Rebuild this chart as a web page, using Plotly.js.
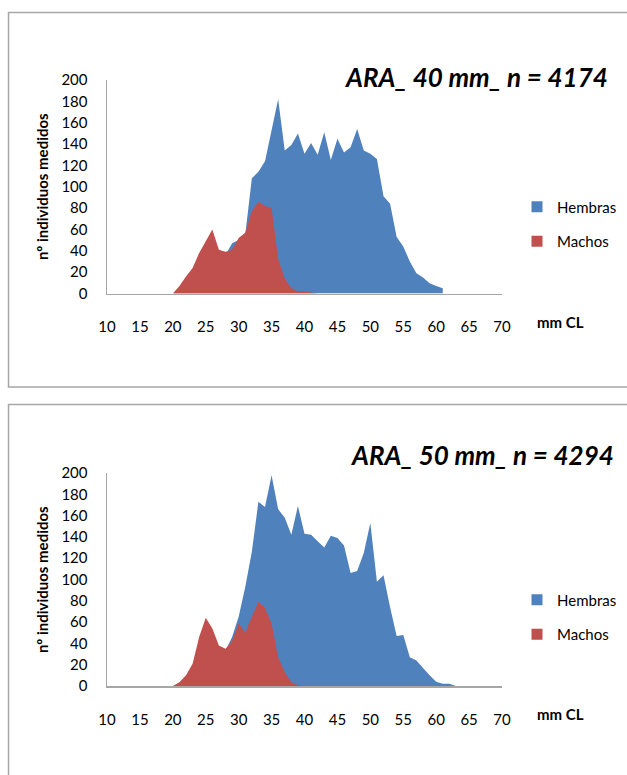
<!DOCTYPE html>
<html>
<head>
<meta charset="utf-8">
<script src="https://cdn.plot.ly/plotly-3.0.1.min.js"></script>
<style>html,body{margin:0;padding:0;background:#fff;}#chart{width:627px;height:775px;}</style>
</head>
<body>
<div id="chart"></div>
<script>
// ---- Data ----
// Panel 1: ARA_ 40 mm_ n = 4174
const mmHembras40 = [20,21,22,23,24,25,26,27,28,29,30,31,32,33,34,35,36,37,38,39,40,41,42,43,44,45,46,47,48,49,50,51,52,53,54,55,56,57,58,59,60,61];
const hembras40   = [0,2,5,10,16,22,28,32,36,47,50,55,108,114,124,153,182,134,139,150,131,141,130,151,125,145,132,137,154,134,131,126,91,84,53,44,30,19,15,9.5,7,5];
const mmMachos40  = [20,21,22,23,24,25,26,27,28,29,30,31,32,33,34,35,36,37,38,39,40,41,42];
const machos40    = [0,7,16,24,38,49,60,41,39,41,52,57,77,86,82,80,32,14,5,2,2,1,0];

// Panel 2: ARA_ 50 mm_ n = 4294
const mmHembras50 = [20,21,22,23,24,25,26,27,28,29,30,31,32,33,34,35,36,37,38,39,40,41,42,43,44,45,46,47,48,49,50,51,52,53,54,55,56,57,58,59,60,61,62,63];
const hembras50   = [0,1,3,6,10,15,20,27,33,46,65,93,126,173,168,198,166,158,142,169,143,142,136,130,141,139,132,106,108,125,153,98,104,74,47,48,27,24,17,10,4,2,2,0];
const mmMachos50  = [20,21,22,23,24,25,26,27,28,29,30,31,32,33,34,35,36,37,38,39,40];
const machos50    = [0,3.5,10,21,46,64,54,38,35,42,59,50,65,79,73,59,27,13,3.5,1,0];

const seriesNames = ["Hembras", "Machos"];
const titles = ["ARA_ 40 mm_ n = 4174", "ARA_ 50 mm_ n = 4294"];
const yTitle = "nº individuos medidos";
const xTitle = "mm CL";

// ---- Styling ----
const W = 627, H = 775;
const BLUE = "#4F81BD", RED = "#C0504D", AXIS = "#a6a6a6";
const FONT = 'Lato, "Open Sans", "DejaVu Sans", sans-serif';
const px = v => v / W;
const py = v => 1 - v / H;

function area(x, y, color, xa, ya) {
  return {x: x, y: y, type: "scatter", mode: "none", fill: "tozeroy", fillcolor: color,
          xaxis: xa, yaxis: ya, showlegend: false, hoverinfo: "skip"};
}
function legendItem(name, color, xa, ya, leg) {
  return {x: [null], y: [null], type: "scatter", mode: "markers", name: name,
          marker: {symbol: "square", size: 11, color: color},
          xaxis: xa, yaxis: ya, legend: leg, legendgroup: leg + name, showlegend: true};
}

const data = [
  area(mmHembras40, hembras40, BLUE, "x", "y"),
  area(mmMachos40, machos40, RED, "x", "y"),
  area(mmHembras50, hembras50, BLUE, "x2", "y2"),
  area(mmMachos50, machos50, RED, "x2", "y2"),
  legendItem(seriesNames[0], BLUE, "x", "y", "legend"),
  legendItem(seriesNames[1], RED, "x", "y", "legend"),
  legendItem(seriesNames[0], BLUE, "x2", "y2", "legend2"),
  legendItem(seriesNames[1], RED, "x2", "y2", "legend2")
];

function xAxis(anchor) {
  return {domain: [px(107), px(502)], range: [10, 70], tick0: 10, dtick: 5, anchor: anchor,
          showline: true, linecolor: AXIS, linewidth: 1.5, showgrid: false, zeroline: false,
          ticks: "outside", ticklen: 19, tickcolor: "rgba(0,0,0,0)",
          tickfont: {family: FONT, size: 15, color: "#000"}, fixedrange: true};
}
function yAxis(anchor, top, bottom) {
  return {domain: [py(bottom), py(top)], range: [0, 200], dtick: 20, anchor: anchor,
          showline: true, linecolor: AXIS, linewidth: 1.5, showgrid: false, zeroline: false,
          ticks: "outside", ticklen: 15, tickcolor: "rgba(0,0,0,0)",
          tickfont: {family: FONT, size: 15, color: "#000"}, fixedrange: true};
}
function legendCfg(yc) {
  return {x: px(517), xanchor: "left", y: py(yc), yanchor: "middle", traceorder: "grouped",
          tracegroupgap: 12, bgcolor: "rgba(0,0,0,0)", borderwidth: 0,
          font: {family: FONT, size: 15, color: "#000"}, itemwidth: 30};
}
function ann(text, x, y, opts) {
  return Object.assign({text: text, x: x, y: y, xref: "paper", yref: "paper", showarrow: false,
          font: {family: FONT, size: 14, color: "#000"}}, opts || {});
}

const layout = {
  width: W, height: H, margin: {l: 0, r: 0, t: 0, b: 0},
  paper_bgcolor: "#fff", plot_bgcolor: "rgba(0,0,0,0)",
  font: {family: FONT, color: "#000"},
  xaxis: xAxis("y"), yaxis: yAxis("x", 80, 293.5),
  xaxis2: xAxis("y2"), yaxis2: yAxis("x2", 473, 686),
  legend: legendCfg(224), legend2: legendCfg(617),
  shapes: [
    {type: "rect", xref: "paper", yref: "paper", x0: px(8.5), x1: px(640), y0: py(387), y1: py(12.5),
     line: {color: AXIS, width: 1.5}, layer: "below"},
    {type: "rect", xref: "paper", yref: "paper", x0: px(8.5), x1: px(640), y0: py(800), y1: py(404.5),
     line: {color: AXIS, width: 1.5}, layer: "below"}
  ],
  annotations: [
    ann("<b><i>" + titles[0] + "</i></b>", px(610), py(77), {xanchor: "right", yanchor: "middle", font: {family: FONT, size: 26, color: "#000"}}),
    ann("<b><i>" + titles[1] + "</i></b>", px(616), py(455), {xanchor: "right", yanchor: "middle", font: {family: FONT, size: 26, color: "#000"}}),
    ann("<b>" + yTitle + "</b>", px(42), py(187), {textangle: -90, xanchor: "center", yanchor: "middle", font: {family: FONT, size: 15, color: "#000"}}),
    ann("<b>" + yTitle + "</b>", px(42), py(580), {textangle: -90, xanchor: "center", yanchor: "middle", font: {family: FONT, size: 15, color: "#000"}}),
    ann("<b>" + xTitle + "</b>", px(560), py(322), {xanchor: "center", yanchor: "middle", font: {family: FONT, size: 15, color: "#000"}}),
    ann("<b>" + xTitle + "</b>", px(560), py(714), {xanchor: "center", yanchor: "middle", font: {family: FONT, size: 15, color: "#000"}})
  ]
};

Plotly.newPlot("chart", data, layout, {staticPlot: true, displayModeBar: false});
</script>
</body>
</html>
